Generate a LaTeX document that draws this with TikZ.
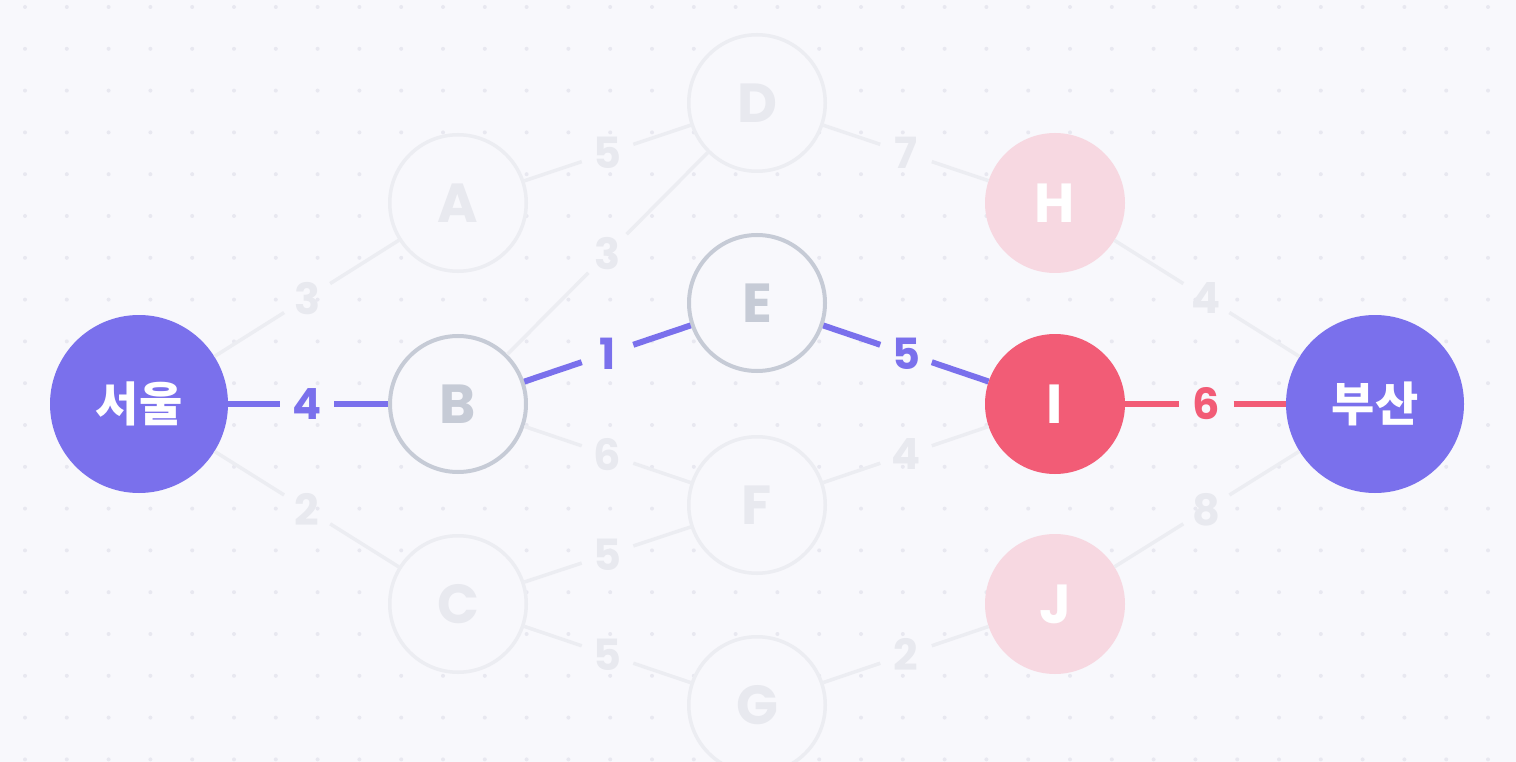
\documentclass[tikz,border=0pt]{standalone}
\usepackage{fontspec}
\usetikzlibrary{calc}
\newfontfamily\pop{Poppins}
\newfontfamily\kr{Noto Sans CJK KR}
\definecolor{bgc}{HTML}{F8F8FC}
\definecolor{dotc}{HTML}{E8E8F0}
\definecolor{faint}{HTML}{ECEDF2}
\definecolor{faintT}{HTML}{E8E9EF}
\definecolor{grayb}{HTML}{C6CBD6}
\definecolor{purp}{HTML}{7A70EC}
\definecolor{redc}{HTML}{F25C76}
\definecolor{pinkc}{HTML}{F7D8E1}
\tikzset{
  nlet/.style={font=\pop\bfseries\fontsize{55}{55}\selectfont},
  fnode/.style={circle, draw=faint, line width=3.5pt, fill=bgc, minimum size=136.5pt, inner sep=0pt, text=faintT, nlet},
  gnode/.style={circle, draw=grayb, line width=4pt, fill=bgc, minimum size=136pt, inner sep=0pt, text=grayb, nlet},
  pnode/.style={circle, fill=pinkc, minimum size=140pt, inner sep=0pt, text=white, nlet},
  rnode/.style={circle, fill=redc, minimum size=140pt, inner sep=0pt, text=white, nlet},
  bnode/.style={circle, fill=purp, minimum size=178pt, inner sep=0pt, text=white, font=\kr\bfseries\fontsize{47}{47}\selectfont},
  lbl/.style={circle, minimum size=54pt, inner sep=0pt, font=\pop\bfseries\fontsize{43}{43}\selectfont, text=faintT},
  fe/.style={draw=faint, line width=3.5pt},
  pe/.style={draw=purp, line width=6pt},
  ree/.style={draw=redc, line width=6pt}
}
\begin{document}
\begin{tikzpicture}[x=1pt,y=-1pt]
\fill[bgc] (0,0) rectangle (1516,762);
\useasboundingbox (0,0) rectangle (1516,762);
\foreach \i in {0,...,36} {\foreach \j in {0,...,18} {\fill[dotc] (25+41.8*\i,7+41.8*\j) circle (2pt);}}
% nodes
\node[bnode] (S) at (139,404) {서울};
\node[bnode] (P) at (1375,404) {부산};
\node[fnode] (A) at (458,203) {A};
\node[gnode] (B) at (458,404) {B};
\node[fnode] (C) at (458,604) {C};
\node[fnode] (D) at (757,103) {D};
\node[gnode] (E) at (757,303) {E};
\node[fnode] (F) at (757,505) {F};
\node[fnode] (G) at (757,705) {G};
\node[pnode] (H) at (1055,203) {H};
\node[rnode] (I) at (1055,404) {I};
\node[pnode] (J) at (1055,604) {J};
% labels
\node[lbl] (lSA) at ($(S)!0.527!(A)$) {3};
\node[lbl, text=purp] (lSB) at ($(S)!0.527!(B)$) {4};
\node[lbl] (lSC) at ($(S)!0.527!(C)$) {2};
\node[lbl] (lAD) at ($(A)!0.5!(D)$) {5};
\node[lbl] (lBD) at ($(B)!0.5!(D)$) {3};
\node[lbl, text=purp] (lBE) at ($(B)!0.5!(E)$) {1};
\node[lbl] (lBF) at ($(B)!0.5!(F)$) {6};
\node[lbl] (lCF) at ($(C)!0.5!(F)$) {5};
\node[lbl] (lCG) at ($(C)!0.5!(G)$) {5};
\node[lbl] (lDH) at ($(D)!0.5!(H)$) {7};
\node[lbl, text=purp] (lEI) at ($(E)!0.5!(I)$) {5};
\node[lbl] (lFI) at ($(F)!0.5!(I)$) {4};
\node[lbl] (lGJ) at ($(G)!0.5!(J)$) {2};
\node[lbl] (lHP) at ($(H)!0.473!(P)$) {4};
\node[lbl, text=redc] (lIP) at ($(I)!0.473!(P)$) {6};
\node[lbl] (lJP) at ($(J)!0.473!(P)$) {8};
% edges
\draw[fe] (S) -- (lSA); \draw[fe] (lSA) -- (A);
\draw[pe] (S) -- (lSB); \draw[pe] (lSB) -- (B);
\draw[fe] (S) -- (lSC); \draw[fe] (lSC) -- (C);
\draw[fe] (A) -- (lAD); \draw[fe] (lAD) -- (D);
\draw[fe] (B) -- (lBD); \draw[fe] (lBD) -- (D);
\draw[pe] (B) -- (lBE); \draw[pe] (lBE) -- (E);
\draw[fe] (B) -- (lBF); \draw[fe] (lBF) -- (F);
\draw[fe] (C) -- (lCF); \draw[fe] (lCF) -- (F);
\draw[fe] (C) -- (lCG); \draw[fe] (lCG) -- (G);
\draw[fe] (D) -- (lDH); \draw[fe] (lDH) -- (H);
\draw[pe] (E) -- (lEI); \draw[pe] (lEI) -- (I);
\draw[fe] (F) -- (lFI); \draw[fe] (lFI) -- (I);
\draw[fe] (G) -- (lGJ); \draw[fe] (lGJ) -- (J);
\draw[fe] (H) -- (lHP); \draw[fe] (lHP) -- (P);
\draw[ree] (I) -- (lIP); \draw[ree] (lIP) -- (P);
\draw[fe] (J) -- (lJP); \draw[fe] (lJP) -- (P);
\end{tikzpicture}
\end{document}
